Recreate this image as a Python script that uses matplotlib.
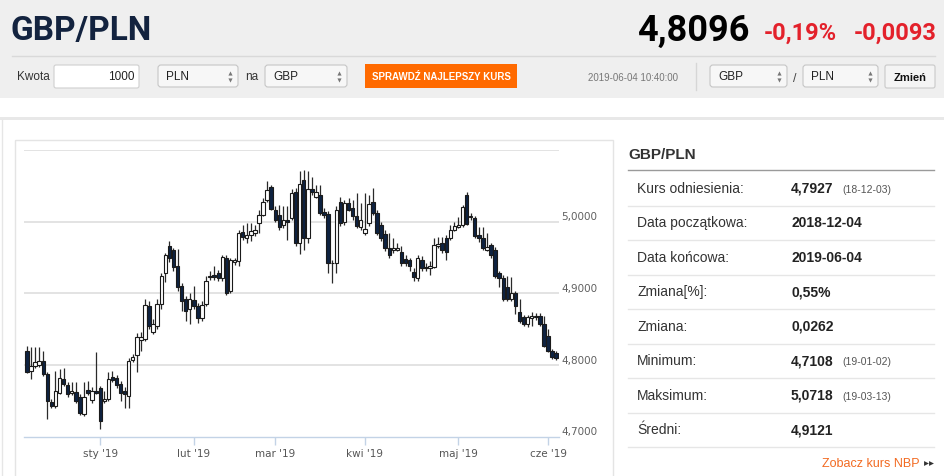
import matplotlib
matplotlib.use('Agg')
import matplotlib.pyplot as plt
from matplotlib.patches import Rectangle, FancyBboxPatch
from matplotlib import font_manager

# GBP/PLN daily candles, 2018-12-04 .. 2019-06-04 (sessions only)
opens = [4.820, 4.792, 4.799, 4.800, 4.806, 4.788, 4.749, 4.743, 4.762, 4.781,
         4.772, 4.762, 4.763, 4.756, 4.732, 4.765, 4.751, 4.764, 4.768, 4.750,
         4.753, 4.784, 4.782, 4.774, 4.764, 4.757, 4.808, 4.814, 4.835, 4.837,
         4.883, 4.847, 4.855, 4.886, 4.928, 4.966, 4.960, 4.939, 4.911, 4.893,
         4.879, 4.891, 4.882, 4.866, 4.886, 4.923, 4.926, 4.929, 4.921, 4.950,
         4.904, 4.944, 4.945, 4.986, 4.978, 4.982, 4.985, 4.998, 5.010, 5.030,
         5.048, 5.017, 5.009, 4.995, 5.002, 5.005, 5.042, 4.970, 5.058, 4.978,
         5.045, 5.035, 5.037, 5.013, 5.011, 4.942, 4.942, 5.027, 4.999, 5.026,
         5.019, 5.008, 4.993, 4.985, 4.998, 5.028, 5.012, 4.995, 4.983, 4.964,
         4.960, 4.961, 4.958, 4.948, 4.946, 4.930, 4.921, 4.946, 4.936, 4.936,
         4.937, 4.966, 4.970, 4.977, 4.977, 4.988, 4.993, 4.995, 5.037, 5.006,
         5.005, 4.981, 4.978, 4.960, 4.967, 4.960, 4.928, 4.922, 4.909, 4.893,
         4.900, 4.874, 4.867, 4.857, 4.866, 4.867, 4.868, 4.858, 4.841, 4.820,
         4.817]
highs = [4.827, 4.826, 4.826, 4.826, 4.820, 4.791, 4.753, 4.792, 4.795, 4.796,
         4.777, 4.777, 4.777, 4.760, 4.777, 4.778, 4.770, 4.818, 4.771, 4.764,
         4.791, 4.792, 4.786, 4.778, 4.770, 4.810, 4.816, 4.845, 4.847, 4.893,
         4.890, 4.865, 4.893, 4.928, 4.957, 4.973, 4.963, 4.962, 4.915, 4.897,
         4.900, 4.910, 4.887, 4.889, 4.924, 4.931, 4.938, 4.933, 4.953, 4.953,
         4.950, 4.950, 4.988, 4.996, 4.998, 4.998, 4.996, 5.017, 5.033, 5.057,
         5.051, 5.022, 5.023, 5.022, 5.022, 5.045, 5.047, 5.071, 5.0718, 5.071,
         5.063, 5.051, 5.051, 5.019, 5.015, 4.946, 5.022, 5.035, 5.030, 5.033,
         5.030, 5.040, 5.026, 5.040, 5.037, 5.047, 5.016, 4.999, 4.989, 4.984,
         4.977, 4.971, 4.966, 4.953, 4.950, 4.935, 4.953, 4.952, 4.942, 4.945,
         4.977, 4.979, 4.979, 4.982, 4.995, 5.000, 5.007, 5.024, 5.041, 5.012,
         5.008, 4.993, 4.993, 4.985, 4.971, 4.965, 4.931, 4.926, 4.925, 4.923,
         4.903, 4.893, 4.870, 4.870, 4.874, 4.873, 4.873, 4.868, 4.851, 4.823,
         4.820]
lows = [4.789, 4.781, 4.796, 4.798, 4.785, 4.725, 4.740, 4.740, 4.760, 4.771,
        4.756, 4.758, 4.747, 4.730, 4.729, 4.758, 4.748, 4.760, 4.7108, 4.747,
        4.750, 4.777, 4.768, 4.750, 4.741, 4.741, 4.804, 4.790, 4.820, 4.834,
        4.851, 4.844, 4.851, 4.879, 4.916, 4.944, 4.932, 4.904, 4.876, 4.862,
        4.858, 4.879, 4.859, 4.862, 4.883, 4.919, 4.919, 4.917, 4.918, 4.898,
        4.901, 4.940, 4.939, 4.975, 4.970, 4.973, 4.980, 4.984, 5.008, 5.027,
        5.016, 5.000, 4.988, 4.991, 4.974, 5.002, 4.966, 4.955, 4.960, 4.970,
        5.037, 5.033, 5.009, 5.005, 4.928, 4.914, 4.928, 4.994, 4.995, 5.015,
        5.003, 4.991, 4.989, 4.982, 4.994, 5.009, 4.981, 4.973, 4.959, 4.950,
        4.957, 4.959, 4.939, 4.938, 4.932, 4.918, 4.917, 4.932, 4.932, 4.926,
        4.935, 4.963, 4.957, 4.946, 4.974, 4.987, 4.991, 4.992, 4.995, 5.003,
        4.978, 4.972, 4.960, 4.959, 4.950, 4.922, 4.909, 4.890, 4.890, 4.890,
        4.872, 4.859, 4.855, 4.854, 4.855, 4.863, 4.855, 4.826, 4.818, 4.809,
        4.807]
closes = [4.791, 4.799, 4.805, 4.806, 4.788, 4.750, 4.743, 4.764, 4.782, 4.774,
          4.760, 4.764, 4.750, 4.733, 4.756, 4.761, 4.764, 4.762, 4.722, 4.753,
          4.781, 4.780, 4.772, 4.762, 4.760, 4.806, 4.811, 4.839, 4.840, 4.884,
          4.855, 4.858, 4.886, 4.925, 4.953, 4.949, 4.937, 4.909, 4.890, 4.876,
          4.893, 4.882, 4.866, 4.884, 4.917, 4.925, 4.923, 4.921, 4.951, 4.901,
          4.946, 4.946, 4.985, 4.979, 4.981, 4.987, 4.989, 5.010, 5.028, 5.044,
          5.018, 5.003, 4.992, 5.002, 4.999, 5.040, 4.970, 5.053, 4.977, 5.045,
          5.041, 5.041, 5.012, 5.009, 4.942, 4.943, 5.016, 4.998, 5.026, 5.017,
          5.008, 4.994, 5.003, 4.990, 5.025, 5.012, 4.985, 4.977, 4.963, 4.953,
          4.964, 4.963, 4.942, 4.942, 4.939, 4.923, 4.949, 4.935, 4.937, 4.938,
          4.967, 4.969, 4.960, 4.958, 4.988, 4.994, 4.996, 5.021, 4.997, 5.008,
          4.980, 4.977, 4.963, 4.965, 4.953, 4.925, 4.922, 4.893, 4.893, 4.900,
          4.883, 4.862, 4.857, 4.867, 4.868, 4.868, 4.858, 4.827, 4.820, 4.812,
          4.8096]

month_labels = ["sty '19", "lut '19", "mar '19", "kwi '19", "maj '19", "cze '19"]
month_starts = [18, 41, 61, 83, 106, 128]   # first session of each month
price_labels = [4.7, 4.8, 4.9, 5.0]
grid_levels = [4.8, 4.9, 5.0, 5.1]

pair = 'GBP/PLN'
last_rate = '4,8096'
change_pct = '-0,19%'
change_abs = '-0,0093'
quote_time = '2019-06-04 10:40:00'
amount = '1000'

stat_names = ['Kurs odniesienia:', 'Data początkowa:', 'Data końcowa:', 'Zmiana[%]:',
              'Zmiana:', 'Minimum:', 'Maksimum:', 'Średni:']
stat_values = ['4,7927', '2018-12-04', '2019-06-04', '0,55%', '0,0262',
               '4,7108', '5,0718', '4,9121']
stat_dates = ['(18-12-03)', '', '', '', '', '(19-01-02)', '(19-03-13)', '']

installed = {f.name for f in font_manager.fontManager.ttflist}
HEAD = 'Roboto' if 'Roboto' in installed else 'DejaVu Sans'
BODY = 'Liberation Sans' if 'Liberation Sans' in installed else 'DejaVu Sans'

W, H = 945, 477
fig = plt.figure(figsize=(W / 100, H / 100), dpi=100)
fig.patch.set_facecolor('white')

# page layer in pixel coordinates
bg = fig.add_axes([0, 0, 1, 1])
bg.set_xlim(0, W)
bg.set_ylim(H, 0)
bg.axis('off')

bg.add_patch(Rectangle((0, 0), W, 99, color='#efefef', lw=0))
bg.plot([12, 935], [57, 57], color='#d9d9d9', lw=1)
bg.add_patch(Rectangle((0, 118), W, 3, color='#e8e8e8', lw=0))
bg.plot([2, 2], [121, H], color='#e6e6e6', lw=1)
bg.add_patch(Rectangle((15, 141), 598, 345, fill=False, ec='#e4e4e4', lw=1))

# header
bg.text(11, 31, pair, fontsize=24, weight='bold', color='#13233f',
        family=HEAD, va='center', ha='left')
bg.text(750, 31, last_rate, fontsize=26, weight='bold', color='#000000',
        family=HEAD, va='center', ha='right')
bg.text(764, 33, change_pct, fontsize=17, weight='bold', color='#e3212b',
        family=HEAD, va='center', ha='left')
bg.text(937, 33, change_abs, fontsize=17, weight='bold', color='#e3212b',
        family=HEAD, va='center', ha='right')


def select_box(x, w, label):
    bg.add_patch(FancyBboxPatch((x, 66), w, 22, boxstyle='round,pad=0,rounding_size=3',
                                fc='#f7f7f7', ec='#c6c6c6', lw=0.8))
    bg.text(x + 8, 77, label, fontsize=8.5, color='#222', family=BODY, va='center')
    # up / down arrows of the native select
    bg.plot([x + w - 8], [74], marker='^', ms=3, color='#777', mew=0)
    bg.plot([x + w - 8], [80.5], marker='v', ms=3, color='#777', mew=0)


bg.text(17, 77, 'Kwota', fontsize=8.5, color='#333', family=BODY, va='center')
bg.add_patch(FancyBboxPatch((54, 66), 85, 23, boxstyle='round,pad=0,rounding_size=2',
                            fc='white', ec='#cfcfcf', lw=0.8))
bg.text(135, 77.5, amount, fontsize=8.5, color='#222', family=BODY, va='center', ha='right')
select_box(158, 80, 'PLN')
bg.text(245, 77, 'na', fontsize=8.5, color='#333', family=BODY, va='center')
select_box(265, 82, 'GBP')
bg.add_patch(Rectangle((365, 65), 152, 24, color='#ff6a00', lw=0))
bg.text(441, 77, 'SPRAWDŹ NAJLEPSZY KURS', fontsize=7, weight='bold', color='white',
        family=BODY, va='center', ha='center')
bg.text(588, 78, quote_time, fontsize=7, color='#777', family=BODY, va='center')
bg.plot([696, 696], [64, 91], color='#d6d6d6', lw=1)
select_box(710, 77, 'GBP')
bg.text(795, 79, '/', fontsize=9, color='#444', family=BODY, va='center', ha='center')
select_box(803, 75, 'PLN')
bg.add_patch(FancyBboxPatch((885, 66), 50, 23, boxstyle='round,pad=0,rounding_size=2',
                            fc='#f4f4f4', ec='#c9c9c9', lw=0.8))
bg.text(910, 78, 'Zmień', fontsize=8, weight='bold', color='#111', family=BODY,
        va='center', ha='center')

# statistics panel
bg.text(628, 155, pair, fontsize=11, weight='bold', color='#333', family=BODY, va='center')
bg.plot([628, 934], [171, 171], color='#9a9a9a', lw=1)
for i, (name, val, dt) in enumerate(zip(stat_names, stat_values, stat_dates)):
    yc = 189 + i * 34.5
    bg.text(637, yc, name, fontsize=10, color='#333', family=BODY, va='center')
    bg.text(791, yc, val, fontsize=10, weight='bold', color='#222', family=BODY, va='center')
    if dt:
        bg.text(842, yc + 1, dt, fontsize=7.5, color='#555', family=BODY, va='center')
    bg.plot([628, 934], [yc + 17.5, yc + 17.5], color='#e6e6e6', lw=1)
bg.text(920, 464, 'Zobacz kurs NBP', fontsize=9, color='#f26a21', family=BODY,
        va='center', ha='right')
bg.plot([926, 931], [464, 464], ls='none', marker='>', ms=3.5, color='#333', mew=0)

# candlestick chart
ax = fig.add_axes([24.5 / W, 1 - 438 / H, (559 - 24.5) / W, (438 - 151) / H])
ax.set_facecolor('none')
ax.set_xlim(-0.6, 130.7)
ax.set_ylim(4.7, 5.1)

for lvl in grid_levels:
    ax.axhline(lvl, color='#e3e3e3', lw=1.4, zorder=0)

navy = '#0e2241'
for i, (o, h, l, c) in enumerate(zip(opens, highs, lows, closes)):
    ax.plot([i, i], [l, h], color='#2a2a2a', lw=0.9, zorder=2, solid_capstyle='butt')
    body = max(abs(c - o), 0.0007)
    fill = 'white' if c >= o else navy
    ax.add_patch(Rectangle((i - 0.42, min(o, c)), 0.84, body, fc=fill,
                           ec='#1a1a1a', lw=0.8, zorder=3))

for side in ['top', 'left', 'right']:
    ax.spines[side].set_visible(False)
ax.spines['bottom'].set_color('#c3d3e6')
ax.spines['bottom'].set_linewidth(1)
ax.set_yticks([])
ax.set_xticks(month_starts)
ax.set_xticklabels(month_labels, fontsize=7.5, color='#555', family='DejaVu Sans')
ax.tick_params(axis='x', length=6, width=1, color='#c3d3e6', pad=2)

for p in price_labels:
    ax.text(1.004, p + 0.008, f'{p:.4f}'.replace('.', ','), transform=ax.get_yaxis_transform(),
            fontsize=7.5, color='#606060', family='DejaVu Sans', va='center', ha='left')

plt.savefig('out.png', dpi=100)
